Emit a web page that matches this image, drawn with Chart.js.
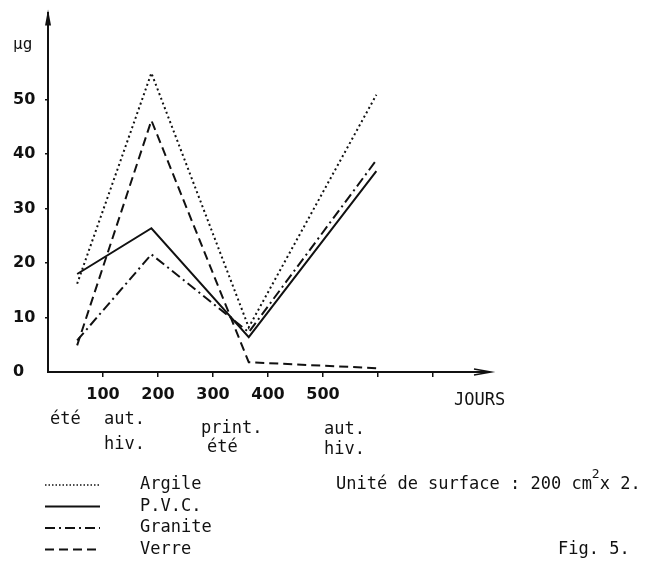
<!DOCTYPE html>
<html>
<head>
<meta charset="utf-8">
<script src="https://cdn.jsdelivr.net/npm/chart.js@4.4.1/dist/chart.umd.min.js"></script>
<style>
  html, body { margin: 0; padding: 0; background: #fff; }
</style>
</head>
<body>
<canvas id="fig5" width="650" height="572"></canvas>
<script>
// ===== DATA =====
const days = [53, 188, 365, 597];
const argile = [16.2, 54.9, 8.2, 50.9];
const pvc = [18, 26.4, 6.4, 36.9];
const granite = [5.8, 21.6, 7.3, 38.9];
const verre = [4.9, 46.2, 1.8, 0.7];
const seriesNames = ['Argile', 'P.V.C.', 'Granite', 'Verre'];
const yTicks = [0, 10, 20, 30, 40, 50, 60];
const yUnit = 'µg';
const xTicks = [0, 100, 200, 300, 400, 500, 600, 700, 800];
const xLabelled = [100, 200, 300, 400, 500];
const xTitle = 'JOURS';

const INK = '#111';
const monoFont = '"DejaVu Sans Mono", monospace';
const numFont = '"DejaVu Sans", sans-serif';

function pts(values) {
  return values.map((v, i) => ({ x: days[i], y: v }));
}

function lineSet(label, values, dash, width) {
  return {
    label: label,
    data: pts(values),
    borderColor: INK,
    borderWidth: width,
    borderDash: dash,
    pointRadius: 0,
    tension: 0,
    fill: false
  };
}

// ===== ANNOTATIONS (arrows, seasons, legend, notes) =====
const figPlugin = {
  id: 'figPlugin',
  afterDraw(chart) {
    const ctx = chart.ctx;
    const area = chart.chartArea;
    ctx.save();
    ctx.fillStyle = INK;
    ctx.strokeStyle = INK;

    // y arrow
    ctx.beginPath();
    ctx.moveTo(area.left, area.top - 3);
    ctx.lineTo(area.left - 3, area.top + 13);
    ctx.lineTo(area.left + 3, area.top + 13);
    ctx.closePath();
    ctx.fill();

    // x arrow
    ctx.lineWidth = 1.5;
    ctx.beginPath();
    ctx.moveTo(area.right - 14, area.bottom - 3);
    ctx.lineTo(area.right + 3, area.bottom);
    ctx.lineTo(area.right - 14, area.bottom + 3);
    ctx.stroke();

    ctx.font = '17px ' + monoFont;
    ctx.textBaseline = 'middle';
    ctx.textAlign = 'left';

    ctx.fillText(xTitle, 454, 401);

    // seasons
    ctx.fillText('été', 50, 420);
    ctx.fillText('aut.', 104, 420);
    ctx.fillText('hiv.', 104, 445);
    ctx.fillText('print.', 201, 429);
    ctx.fillText('été', 207, 448);
    ctx.fillText('aut.', 324, 430);
    ctx.fillText('hiv.', 324, 450);

    // legend
    chart.data.datasets.forEach((ds, i) => {
      const y = 485 + i * 21.5;
      ctx.save();
      ctx.lineWidth = i === 0 ? 1.5 : ds.borderWidth;
      ctx.setLineDash(i === 0 ? [1.5, 2] : ds.borderDash);
      ctx.beginPath();
      ctx.moveTo(45, y);
      ctx.lineTo(100, y);
      ctx.stroke();
      ctx.restore();
      ctx.fillText(ds.label, 140, y);
    });

    // surface note
    const note = 'Unité de surface : 200 cm';
    ctx.fillText(note, 336, 485);
    const w = ctx.measureText(note).width;
    ctx.font = '13px ' + monoFont;
    ctx.fillText('2', 336 + w, 475);
    ctx.font = '17px ' + monoFont;
    ctx.fillText('x 2.', 336 + w + 8, 485);

    ctx.fillText('Fig. 5.', 558, 550);
    ctx.restore();
  }
};

new Chart(document.getElementById('fig5'), {
  type: 'line',
  data: {
    datasets: [
      lineSet(seriesNames[0], argile, [2, 3], 2),
      lineSet(seriesNames[1], pvc, [], 2),
      lineSet(seriesNames[2], granite, [10, 4, 2, 4], 2),
      lineSet(seriesNames[3], verre, [9, 5], 2)
    ]
  },
  options: {
    responsive: false,
    animation: false,
    devicePixelRatio: 1,
    layout: { padding: { left: 13, top: 9, right: 162, bottom: 160 } },
    plugins: { legend: { display: false }, tooltip: { enabled: false } },
    scales: {
      x: {
        type: 'linear',
        min: 0,
        max: 800,
        afterBuildTicks: s => { s.ticks = xTicks.map(v => ({ value: v })); },
        afterFit: s => { s.height = 40; },
        border: { display: true, color: INK, width: 2 },
        grid: {
          drawOnChartArea: false,
          tickLength: 5,
          lineWidth: 1.5,
          color: c => (c.tick && (c.tick.value === 0 || c.tick.value === 800)) ? 'rgba(0,0,0,0)' : INK
        },
        ticks: {
          autoSkip: false,
          maxRotation: 0,
          padding: 8,
          color: INK,
          font: { family: numFont, size: 16, weight: 'bold' },
          callback: v => xLabelled.includes(v) ? String(v) : ''
        }
      },
      y: {
        min: 0,
        max: 66,
        afterBuildTicks: s => { s.ticks = yTicks.map(v => ({ value: v })); },
        afterFit: s => { s.width = 35; },
        border: { display: true, color: INK, width: 2 },
        grid: {
          drawOnChartArea: false,
          tickLength: 3,
          lineWidth: 1.5,
          color: c => (c.tick && (c.tick.value === 60 || c.tick.value === 0)) ? 'rgba(0,0,0,0)' : INK
        },
        ticks: {
          crossAlign: 'far',
          color: INK,
          font: c => (c.tick && c.tick.value === 60)
            ? { family: monoFont, size: 16, weight: 'normal' }
            : { family: numFont, size: 16, weight: 'bold' },
          callback: v => v === 60 ? yUnit : String(v)
        }
      }
    }
  },
  plugins: [figPlugin]
});
</script>
</body>
</html>
